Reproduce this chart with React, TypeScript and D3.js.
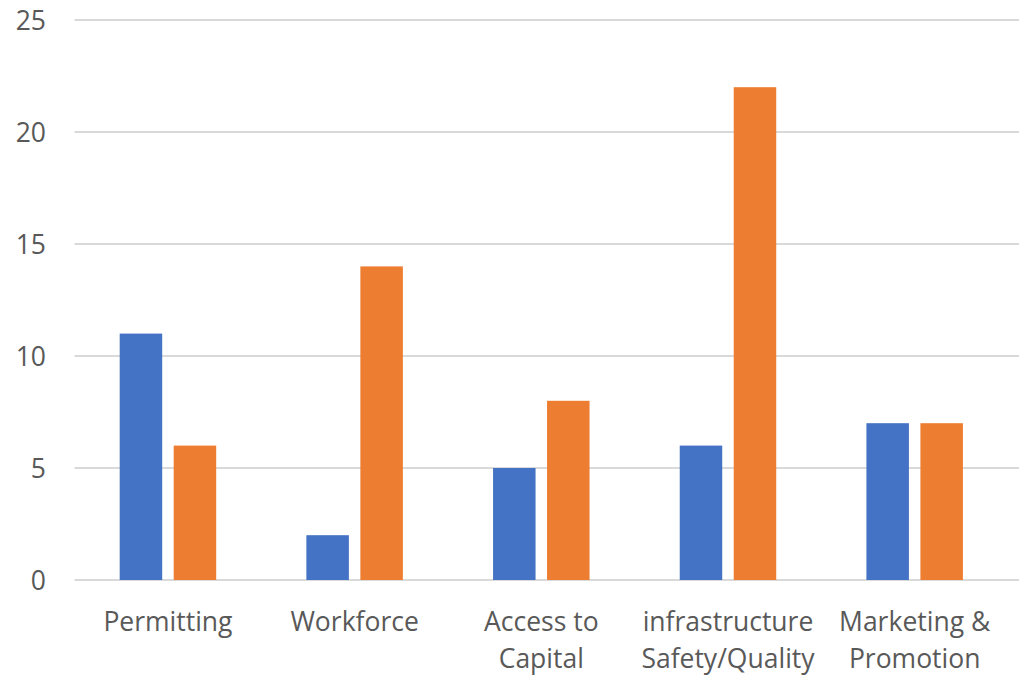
import React from "react";
import * as d3 from "d3";

const categories: string[][] = [
  ["Permitting"],
  ["Workforce"],
  ["Access to", "Capital"],
  ["infrastructure", "Safety/Quality"],
  ["Marketing &", "Promotion"],
];
const series1: number[] = [11, 2, 5, 6, 7];
const series2: number[] = [6, 14, 8, 22, 7];
const yTicks: number[] = [0, 5, 10, 15, 20, 25];

const W = 1019;
const H = 676;
const left = 74.6;
const right = 1008;
const top = 20;
const bottom = 580;

export default function App() {
  const x = d3
    .scaleBand<number>()
    .domain(d3.range(categories.length))
    .range([left, right])
    .paddingInner(0)
    .paddingOuter(0);
  const y = d3.scaleLinear().domain([0, 25]).range([bottom, top]);
  const step = x.bandwidth();
  const barW = 42.5;
  const gap = 11.5;
  const font = "'Open Sans', sans-serif";
  const fs = 26.5;
  return (
    <svg
      width={W}
      height={H}
      style={{ position: "absolute", left: 0, top: 0, background: "#fff" }}
    >
      {yTicks.map((t) => (
        <g key={t}>
          <line
            x1={left}
            x2={W}
            y1={y(t)}
            y2={y(t)}
            stroke="#d9d9d9"
            strokeWidth={2}
          />
          <text
            x={46}
            y={y(t)}
            dy="0.36em"
            textAnchor="end"
            fontFamily={font}
            fontSize={fs}
            fill="#595959"
          >
            {t}
          </text>
        </g>
      ))}
      {categories.map((c, i) => {
        const cx = (x(i) as number) + step / 2;
        return (
          <g key={i}>
            <rect
              x={cx - gap / 2 - barW}
              y={y(series1[i])}
              width={barW}
              height={bottom - y(series1[i])}
              fill="#4472C4"
            />
            <rect
              x={cx + gap / 2}
              y={y(series2[i])}
              width={barW}
              height={bottom - y(series2[i])}
              fill="#ED7D31"
            />
            {c.map((line, j) => (
              <text
                key={j}
                x={cx}
                y={621 + j * 37.5}
                dy="0.36em"
                textAnchor="middle"
                fontFamily={font}
                fontSize={fs}
                fill="#595959"
              >
                {line}
              </text>
            ))}
          </g>
        );
      })}
    </svg>
  );
}
